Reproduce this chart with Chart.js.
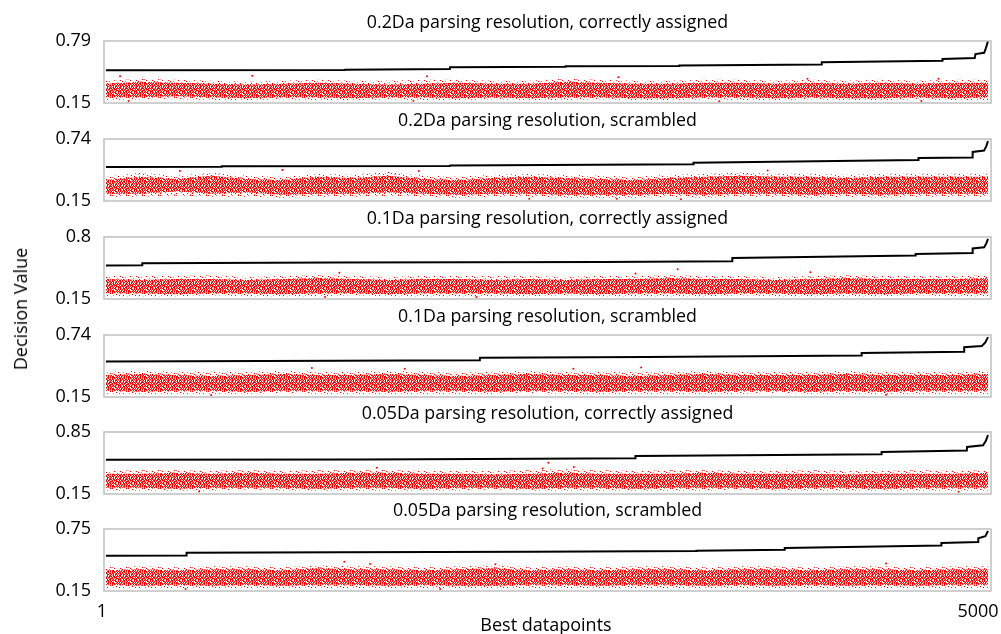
<!DOCTYPE html>
<html>
<head>
<meta charset="utf-8">
<script src="https://cdn.jsdelivr.net/npm/chart.js@4.4.1/dist/chart.umd.min.js"></script>
<style>
  html, body { margin: 0; padding: 0; background: #fff; }
  #wrap { position: relative; width: 1001px; height: 634px; overflow: hidden; font-family: "Open Sans", sans-serif; color: #000; }
  #wrap canvas { position: absolute; left: 0; }
  .lbl { position: absolute; white-space: nowrap; transform: translate(-50%, -50%); }
</style>
</head>
<body>
<div id="wrap"></div>
<script>
// panel titles and y tick labels (min / max of each panel)
const panelTitles = [
  "0.2Da parsing resolution, correctly assigned",
  "0.2Da parsing resolution, scrambled",
  "0.1Da parsing resolution, correctly assigned",
  "0.1Da parsing resolution, scrambled",
  "0.05Da parsing resolution, correctly assigned",
  "0.05Da parsing resolution, scrambled"
];
const yMin = [0.15, 0.15, 0.15, 0.15, 0.15, 0.15];
const yMax = [0.79, 0.74, 0.8, 0.74, 0.85, 0.75];
const xTickLabels = ["1", "5000"];

// black curve: sorted best decision values (corner points of the steps)
const bestIdx1 = [1, 1355, 1356, 1950, 1951, 2605, 2606, 3250, 3251, 4055, 4058, 4740, 4742, 4925, 4929, 4978, 4985, 4992, 5000];
const bestVal1 = [0.487, 0.491, 0.494, 0.502, 0.518, 0.525, 0.529, 0.533, 0.537, 0.548, 0.570, 0.585, 0.605, 0.615, 0.655, 0.668, 0.70, 0.74, 0.79];
const bestIdx2 = [1, 657, 658, 1950, 1951, 3330, 3331, 4605, 4606, 4912, 4913, 4978, 4990, 5000];
const bestVal2 = [0.474, 0.477, 0.480, 0.484, 0.487, 0.500, 0.515, 0.540, 0.559, 0.565, 0.617, 0.630, 0.67, 0.72];
const bestIdx3 = [1, 206, 207, 1298, 2815, 3550, 3551, 4589, 4590, 4912, 4913, 4978, 4990, 5000];
const bestVal3 = [0.502, 0.505, 0.526, 0.532, 0.538, 0.547, 0.580, 0.605, 0.622, 0.632, 0.680, 0.692, 0.73, 0.78];
const bestIdx4 = [1, 1330, 2120, 2121, 3067, 4283, 4284, 4864, 4865, 4965, 4985, 5000];
const bestVal4 = [0.488, 0.494, 0.500, 0.524, 0.530, 0.545, 0.569, 0.580, 0.624, 0.635, 0.67, 0.72];
const bestIdx5 = [1, 1443, 2121, 3001, 3002, 4396, 4397, 4880, 4881, 4972, 4988, 5000];
const bestVal5 = [0.537, 0.540, 0.545, 0.555, 0.578, 0.600, 0.624, 0.640, 0.682, 0.70, 0.75, 0.816];
const bestIdx6 = [1, 457, 458, 1330, 2411, 3347, 3348, 3847, 3848, 4735, 4736, 4944, 4945, 4985, 5000];
const bestVal6 = [0.492, 0.494, 0.521, 0.526, 0.530, 0.538, 0.540, 0.548, 0.566, 0.590, 0.615, 0.625, 0.660, 0.68, 0.73];

// red cloud, sampled every 200 datapoints: dense core (lo/hi) and sparse fringe
const cloudIdx = [0, 200, 400, 600, 800, 1000, 1200, 1400, 1600, 1800, 2000, 2200, 2400, 2600, 2800, 3000, 3200, 3400, 3600, 3800, 4000, 4200, 4400, 4600, 4800, 5000];
const cloudLo1 = [0.21, 0.21, 0.22, 0.21, 0.20, 0.21, 0.21, 0.20, 0.21, 0.21, 0.20, 0.21, 0.20, 0.21, 0.21, 0.20, 0.20, 0.21, 0.21, 0.20, 0.21, 0.20, 0.20, 0.21, 0.20, 0.21];
const cloudHi1 = [0.35, 0.37, 0.36, 0.35, 0.34, 0.35, 0.36, 0.35, 0.34, 0.35, 0.36, 0.35, 0.35, 0.37, 0.36, 0.35, 0.35, 0.36, 0.36, 0.35, 0.36, 0.35, 0.36, 0.35, 0.36, 0.36];
const fringeLo1 = [0.18, 0.19, 0.19, 0.18, 0.18, 0.19, 0.18, 0.18, 0.19, 0.18, 0.18, 0.19, 0.18, 0.18, 0.19, 0.18, 0.18, 0.19, 0.18, 0.18, 0.19, 0.18, 0.18, 0.19, 0.18, 0.18];
const fringeHi1 = [0.38, 0.40, 0.39, 0.38, 0.37, 0.38, 0.39, 0.38, 0.38, 0.39, 0.39, 0.38, 0.38, 0.40, 0.39, 0.38, 0.38, 0.39, 0.39, 0.38, 0.39, 0.38, 0.39, 0.38, 0.39, 0.39];
const cloudLo2 = [0.22, 0.22, 0.24, 0.22, 0.23, 0.21, 0.22, 0.22, 0.23, 0.22, 0.21, 0.22, 0.22, 0.21, 0.21, 0.21, 0.22, 0.21, 0.22, 0.22, 0.21, 0.22, 0.21, 0.22, 0.22, 0.22];
const cloudHi2 = [0.35, 0.38, 0.36, 0.39, 0.36, 0.35, 0.38, 0.37, 0.39, 0.36, 0.35, 0.37, 0.38, 0.37, 0.36, 0.35, 0.37, 0.38, 0.39, 0.38, 0.38, 0.37, 0.38, 0.38, 0.38, 0.38];
const fringeLo2 = [0.19, 0.19, 0.20, 0.19, 0.19, 0.18, 0.19, 0.19, 0.20, 0.19, 0.18, 0.19, 0.19, 0.18, 0.18, 0.18, 0.19, 0.18, 0.19, 0.19, 0.18, 0.19, 0.18, 0.19, 0.19, 0.19];
const fringeHi2 = [0.38, 0.42, 0.39, 0.42, 0.39, 0.38, 0.41, 0.40, 0.43, 0.39, 0.38, 0.40, 0.41, 0.40, 0.39, 0.38, 0.40, 0.41, 0.42, 0.41, 0.41, 0.40, 0.41, 0.41, 0.41, 0.41];
const cloudLo3 = [0.21, 0.21, 0.20, 0.21, 0.21, 0.20, 0.21, 0.21, 0.20, 0.21, 0.21, 0.21, 0.20, 0.21, 0.20, 0.21, 0.21, 0.20, 0.21, 0.21, 0.20, 0.21, 0.20, 0.21, 0.21, 0.21];
const cloudHi3 = [0.36, 0.35, 0.36, 0.36, 0.35, 0.36, 0.37, 0.36, 0.35, 0.36, 0.36, 0.35, 0.36, 0.35, 0.36, 0.36, 0.37, 0.36, 0.36, 0.35, 0.36, 0.37, 0.36, 0.36, 0.36, 0.37];
const fringeLo3 = [0.18, 0.18, 0.18, 0.19, 0.18, 0.18, 0.18, 0.19, 0.18, 0.18, 0.18, 0.18, 0.18, 0.19, 0.18, 0.18, 0.18, 0.18, 0.19, 0.18, 0.18, 0.18, 0.18, 0.19, 0.18, 0.18];
const fringeHi3 = [0.39, 0.39, 0.39, 0.40, 0.38, 0.39, 0.40, 0.39, 0.38, 0.39, 0.39, 0.39, 0.39, 0.38, 0.39, 0.39, 0.40, 0.39, 0.39, 0.38, 0.39, 0.40, 0.39, 0.39, 0.39, 0.40];
const cloudLo4 = [0.21, 0.20, 0.21, 0.21, 0.20, 0.21, 0.21, 0.21, 0.20, 0.21, 0.21, 0.20, 0.21, 0.21, 0.20, 0.21, 0.21, 0.20, 0.21, 0.21, 0.20, 0.21, 0.20, 0.21, 0.21, 0.21];
const cloudHi4 = [0.36, 0.37, 0.36, 0.35, 0.36, 0.37, 0.36, 0.36, 0.37, 0.36, 0.35, 0.36, 0.37, 0.36, 0.36, 0.35, 0.36, 0.37, 0.36, 0.36, 0.36, 0.37, 0.36, 0.36, 0.36, 0.37];
const fringeLo4 = [0.18, 0.18, 0.18, 0.18, 0.18, 0.19, 0.18, 0.18, 0.18, 0.18, 0.18, 0.18, 0.19, 0.18, 0.18, 0.18, 0.18, 0.18, 0.18, 0.19, 0.18, 0.18, 0.18, 0.18, 0.18, 0.18];
const fringeHi4 = [0.39, 0.40, 0.39, 0.39, 0.39, 0.40, 0.39, 0.39, 0.40, 0.39, 0.38, 0.39, 0.40, 0.39, 0.39, 0.39, 0.39, 0.40, 0.39, 0.39, 0.39, 0.40, 0.39, 0.39, 0.39, 0.40];
const cloudLo5 = [0.22, 0.22, 0.21, 0.22, 0.22, 0.22, 0.21, 0.22, 0.22, 0.21, 0.22, 0.22, 0.21, 0.22, 0.22, 0.21, 0.22, 0.22, 0.22, 0.21, 0.22, 0.22, 0.21, 0.22, 0.22, 0.22];
const cloudHi5 = [0.38, 0.38, 0.39, 0.38, 0.39, 0.38, 0.38, 0.39, 0.39, 0.38, 0.38, 0.37, 0.38, 0.39, 0.38, 0.38, 0.38, 0.39, 0.38, 0.38, 0.38, 0.37, 0.38, 0.38, 0.38, 0.39];
const fringeLo5 = [0.19, 0.19, 0.19, 0.19, 0.20, 0.19, 0.19, 0.19, 0.19, 0.19, 0.19, 0.20, 0.19, 0.19, 0.19, 0.19, 0.19, 0.19, 0.20, 0.19, 0.19, 0.19, 0.19, 0.19, 0.19, 0.19];
const fringeHi5 = [0.41, 0.42, 0.42, 0.41, 0.42, 0.41, 0.42, 0.42, 0.42, 0.41, 0.41, 0.41, 0.42, 0.43, 0.42, 0.41, 0.42, 0.42, 0.41, 0.41, 0.42, 0.41, 0.41, 0.42, 0.41, 0.42];
const cloudLo6 = [0.21, 0.20, 0.21, 0.20, 0.21, 0.20, 0.21, 0.21, 0.20, 0.21, 0.20, 0.20, 0.21, 0.21, 0.20, 0.21, 0.21, 0.20, 0.21, 0.20, 0.21, 0.20, 0.21, 0.20, 0.21, 0.21];
const cloudHi6 = [0.35, 0.36, 0.35, 0.36, 0.36, 0.35, 0.37, 0.36, 0.36, 0.35, 0.36, 0.37, 0.35, 0.36, 0.35, 0.36, 0.36, 0.35, 0.36, 0.36, 0.35, 0.36, 0.36, 0.35, 0.36, 0.36];
const fringeLo6 = [0.18, 0.18, 0.18, 0.18, 0.18, 0.18, 0.18, 0.18, 0.18, 0.18, 0.18, 0.18, 0.18, 0.18, 0.18, 0.18, 0.18, 0.18, 0.18, 0.18, 0.18, 0.18, 0.18, 0.18, 0.18, 0.18];
const fringeHi6 = [0.38, 0.39, 0.38, 0.39, 0.39, 0.38, 0.40, 0.39, 0.39, 0.38, 0.39, 0.40, 0.38, 0.39, 0.38, 0.39, 0.39, 0.38, 0.39, 0.39, 0.38, 0.39, 0.39, 0.38, 0.39, 0.39];

// stray red points outside the band
const strayIdx1 = [81, 830, 1821, 2905, 3977, 4719, 129, 1743, 3477, 4622];
const strayVal1 = [0.425, 0.432, 0.425, 0.415, 0.401, 0.401, 0.170, 0.172, 0.168, 0.170];
const strayIdx2 = [1001, 1775, 3751, 2896, 3260, 420, 2400];
const strayVal2 = [0.445, 0.436, 0.440, 0.172, 0.166, 0.435, 0.172];
const strayIdx3 = [3241, 1324, 3002, 3993, 1243, 2100];
const strayVal3 = [0.463, 0.424, 0.417, 0.431, 0.170, 0.172];
const strayIdx4 = [1168, 1695, 3034, 597, 4422, 2650];
const strayVal4 = [0.426, 0.420, 0.430, 0.170, 0.172, 0.420];
const strayIdx5 = [2508, 1536, 2476, 2653, 529, 4833];
const strayVal5 = [0.502, 0.447, 0.438, 0.455, 0.178, 0.175];
const strayIdx6 = [1352, 1498, 2208, 4422, 1895, 452];
const strayVal6 = [0.434, 0.412, 0.410, 0.415, 0.170, 0.170];

const bestIdx = [bestIdx1, bestIdx2, bestIdx3, bestIdx4, bestIdx5, bestIdx6];
const bestVal = [bestVal1, bestVal2, bestVal3, bestVal4, bestVal5, bestVal6];
const cloudLo = [cloudLo1, cloudLo2, cloudLo3, cloudLo4, cloudLo5, cloudLo6];
const cloudHi = [cloudHi1, cloudHi2, cloudHi3, cloudHi4, cloudHi5, cloudHi6];
const fringeLo = [fringeLo1, fringeLo2, fringeLo3, fringeLo4, fringeLo5, fringeLo6];
const fringeHi = [fringeHi1, fringeHi2, fringeHi3, fringeHi4, fringeHi5, fringeHi6];
const strayIdx = [strayIdx1, strayIdx2, strayIdx3, strayIdx4, strayIdx5, strayIdx6];
const strayVal = [strayVal1, strayVal2, strayVal3, strayVal4, strayVal5, strayVal6];

// layout
const W = 1001;
const boxTop = [41, 139, 237, 335, 432, 529];
const BOX_H = 62;
const PAD = 28;
const PLOT_LEFT = 104;
const PLOT_RIGHT = 991;

const wrap = document.getElementById("wrap");

// speckled textures standing in for thousands of tiny red dots
function makeSpeckle(rows) {
  const c = document.createElement("canvas");
  c.width = 16; c.height = rows.length;
  const g = c.getContext("2d");
  rows.forEach((r, y) => {
    for (let x = 0; x < 16; x++) {
      const ch = r[x];
      if (ch === "x") { g.fillStyle = "#ff0000"; g.fillRect(x, y, 1, 1); }
      else if (ch === "o") { g.fillStyle = "#ff7070"; g.fillRect(x, y, 1, 1); }
    }
  });
  return g.createPattern(c, "repeat");
}
const denseSpeckle = makeSpeckle([
  "xx.ox.x.x.xo.xx.",
  ".x.xx.o.xx.xx.ox",
  "ox.x.x.xx..x.ox.",
  ".xx.xox.x.ox.xx.",
  "x.x.x..x.xx.xx.o",
  "x.o.xxx.x.x.o.xx",
  ".x.xo.xxx..x.xx.",
  "x.xx..x.xo.xx.x.",
  ".o.xx.x.x.x.x.ox",
  "xx..ox.x.xo.x.x.",
  ".xx.x.x.ox.xx.x.",
  "x.xo.x.xx.x.x.o."
]);
const sparseSpeckle = makeSpeckle([
  "x.......o.....x.",
  "....x...........",
  ".o.....x...x....",
  "..........o....x",
  "...x............",
  "......x....o....",
  "o.............x.",
  "..x.....x.......",
  "..........x..o..",
  ".....o..........",
  "x..........x....",
  ".......x......o."
]);

const boxPlugin = {
  id: "box",
  afterDraw(chart) {
    const { ctx, chartArea: a } = chart;
    ctx.save();
    ctx.strokeStyle = "#c0c0c0";
    ctx.lineWidth = 1.5;
    ctx.strokeRect(a.left, a.top, a.right - a.left, a.bottom - a.top);
    ctx.restore();
  }
};

function addLabel(text, x, y, size, extra) {
  const d = document.createElement("div");
  d.className = "lbl";
  d.textContent = text;
  d.style.left = x + "px";
  d.style.top = y + "px";
  d.style.fontSize = size + "px";
  if (extra) d.style.transform = extra;
  wrap.appendChild(d);
}

function pts(xs, ys) { return xs.map((x, k) => ({ x, y: ys[k] })); }

for (let i = 0; i < 6; i++) {
  const canvas = document.createElement("canvas");
  canvas.width = W;
  canvas.height = BOX_H + 2 * PAD;
  canvas.style.top = (boxTop[i] - PAD) + "px";
  wrap.appendChild(canvas);

  const lo = yMin[i], hi = yMax[i];
  const edge = { borderWidth: 0, borderColor: "rgba(0,0,0,0)", pointRadius: 0, tension: 0 };

  const chart = new Chart(canvas, {
    type: "line",
    data: {
      datasets: [
        { label: "best", data: pts(bestIdx[i], bestVal[i]), borderColor: "#000", borderWidth: 2, pointRadius: 0, tension: 0, fill: false },
        Object.assign({ label: "core upper", data: pts(cloudIdx, cloudHi[i]), fill: false }, edge),
        Object.assign({ label: "core lower", data: pts(cloudIdx, cloudLo[i]), fill: "-1", backgroundColor: denseSpeckle }, edge),
        Object.assign({ label: "fringe upper", data: pts(cloudIdx, fringeHi[i]), fill: false }, edge),
        Object.assign({ label: "fringe lower", data: pts(cloudIdx, fringeLo[i]), fill: "-1", backgroundColor: sparseSpeckle }, edge),
        { label: "stray", data: pts(strayIdx[i], strayVal[i]), showLine: false, pointRadius: 1, pointBorderWidth: 0, pointBackgroundColor: "#ff0000" }
      ]
    },
    options: {
      responsive: false,
      animation: false,
      events: [],
      layout: { padding: { left: 0, right: W - PLOT_RIGHT, top: PAD, bottom: PAD } },
      plugins: { legend: { display: false }, tooltip: { enabled: false }, title: { display: false } },
      scales: {
        x: { type: "linear", min: -10, max: 5017, display: false },
        y: {
          type: "linear",
          min: lo,
          max: hi,
          afterBuildTicks: s => { s.ticks = [{ value: lo }, { value: hi }]; },
          afterFit: s => { s.width = PLOT_LEFT; },
          grid: { display: false, drawTicks: false },
          border: { display: false },
          ticks: {
            padding: 13,
            color: "#000",
            font: { family: "Open Sans", size: 18 },
            callback: v => String(v)
          }
        }
      }
    },
    plugins: [boxPlugin]
  });

  // keep the plot box exactly where the panel sits
  const shift = chart.chartArea.top - PAD;
  if (shift) canvas.style.top = (boxTop[i] - PAD - shift) + "px";

  addLabel(panelTitles[i], (PLOT_LEFT + PLOT_RIGHT) / 2, boxTop[i] - 20, 17.8);
}

// axis titles and x tick labels
addLabel(xTickLabels[0], 102, 610, 18);
addLabel(xTickLabels[1], 978, 610, 18);
addLabel("Best datapoints", 546, 624, 18);
addLabel("Decision Value", 20, 309, 18, "translate(-50%, -50%) rotate(-90deg)");
</script>
</body>
</html>
